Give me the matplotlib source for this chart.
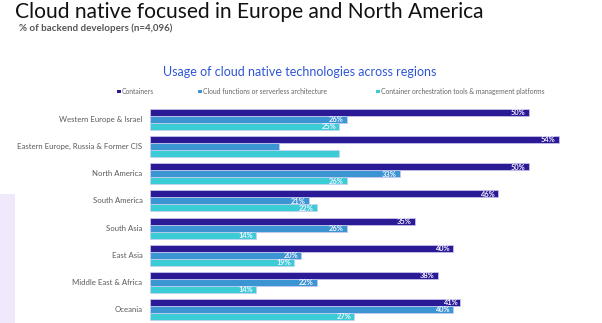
import numpy as np
import matplotlib.pyplot as plt
from matplotlib.patches import Rectangle

plt.rcParams['font.family'] = ['Lato', 'DejaVu Sans']

regions = ['Western Europe & Israel', 'Eastern Europe, Russia & Former CIS', 'North America',
           'South America', 'South Asia', 'East Asia', 'Middle East & Africa', 'Oceania']
containers = [50, 54, 50, 46, 35, 40, 38, 41]
serverless = [26, 17, 33, 21, 26, 20, 22, 40]
orchestration = [25, 25, 26, 22, 14, 19, 14, 27]
# the Eastern Europe blue/cyan bars carry no value label in the source
show_label = [[True] * 8, [True, False] + [True] * 6, [True, False] + [True] * 6]

series = [('Containers', containers, '#2b1a96'),
          ('Cloud functions or serverless architecture', serverless, '#3a95d2'),
          ('Container orchestration tools & management platforms', orchestration, '#3bcdd6')]

W, H = 602, 323
fig = plt.figure(figsize=(W / 100, H / 100), dpi=100)

# light lavender strip on the left edge
fig.patches.append(Rectangle((0, 0), 15 / W, (H - 194) / H, transform=fig.transFigure,
                             facecolor='#efe9fb', edgecolor='none', zorder=0))

fig.text(15 / W, 1 - 12 / H, 'Cloud native focused in Europe and North America',
         fontsize=15.1, color='#111111', va='center', ha='left')
fig.text(19 / W, 1 - 28 / H, '% of backend developers (n=4,096)',
         fontsize=7, color='#555555', va='center', ha='left', fontweight='bold')
fig.text(300 / W, 1 - 72 / H, 'Usage of cloud native technologies across regions',
         fontsize=9, color='#2f55d4', va='center', ha='center')

legend_x = [117, 198, 376]
for (name, _, col), lx in zip(series, legend_x):
    fig.patches.append(Rectangle((lx / W, 1 - 93 / H), 3.5 / W, 3.5 / H,
                                 transform=fig.transFigure, facecolor=col, edgecolor='none'))
    fig.text((lx + 5) / W, 1 - 91.5 / H, name, fontsize=4.9, color='#666666',
             va='center', ha='left')

ax = fig.add_axes([150 / W, (H - 321) / H, (W - 150) / W, (321 - 109) / H])
px = 7.57  # pixels per percent
ax.set_xlim(0, (W - 150) / px)
ax.set_ylim(7 * 27 + 11.5, -10.5)
ax.axis('off')

bar_h = 7
centers = np.arange(len(regions)) * 27
for k, (name, vals, col) in enumerate(series):
    ys = centers + (k - 1) * bar_h
    ax.barh(ys, vals, height=bar_h, color=col, edgecolor='#cfcaf0', linewidth=0.5)
    for i, (y, v) in enumerate(zip(ys, vals)):
        if show_label[k][i]:
            ax.text(v - 0.4, y + 0.3, f'{v}%', color='#f4f2ff', fontsize=5.4,
                    fontweight='bold', ha='right', va='center')

for c, r in zip(centers, regions):
    ax.text(-1.0, c, r, ha='right', va='center', fontsize=5.6, color='#5a5a5a',
            clip_on=False)

fig.savefig('out.png', dpi=100)
